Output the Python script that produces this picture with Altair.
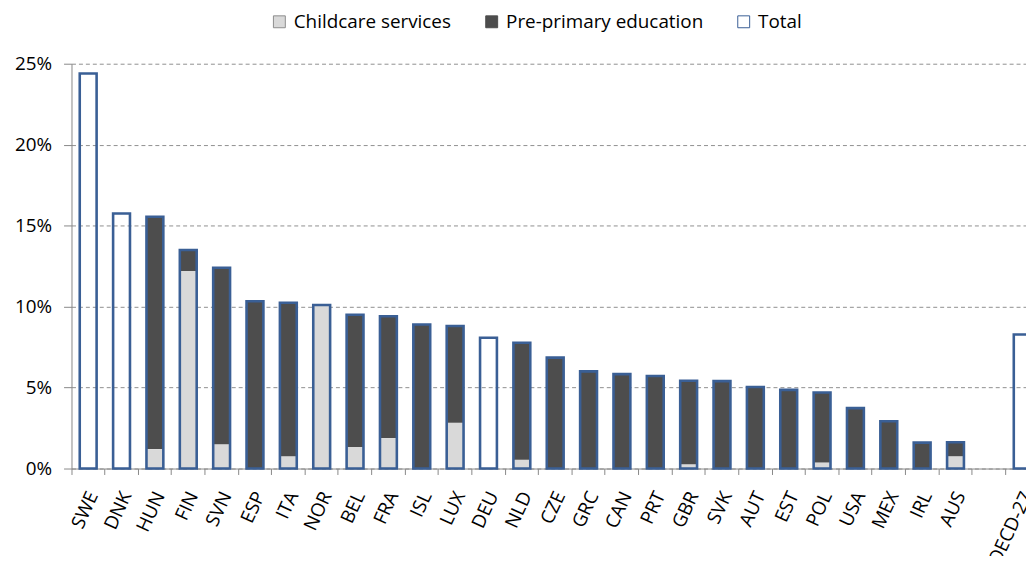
import altair as alt
import pandas as pd

countries = ["SWE", "DNK", "HUN", "FIN", "SVN", "ESP", "ITA", "NOR", "BEL", "FRA",
             "ISL", "LUX", "DEU", "NLD", "CZE", "GRC", "CAN", "PRT", "GBR", "SVK",
             "AUT", "EST", "POL", "USA", "MEX", "IRL", "AUS", "OECD-27"]
domain = countries[:27] + [" "] + ["OECD-27"]

total = [24.40, 15.75, 15.55, 13.50, 12.40, 10.33, 10.24, 10.10, 9.50, 9.40,
         8.90, 8.80, 8.08, 7.77, 6.85, 6.00, 5.83, 5.71, 5.42, 5.40,
         5.04, 4.86, 4.70, 3.73, 2.92, 1.60, 1.62, 8.28]
childcare = [0, 0, 1.20, 12.20, 1.50, 0, 0.76, 10.10, 1.33, 1.88,
             0, 2.82, 0, 0.55, 0, 0, 0, 0, 0.27, 0,
             0, 0, 0.37, 0, 0, 0, 0.76, 0]
preprimary = [0, 0, 14.35, 1.30, 10.90, 10.33, 9.48, 0, 8.17, 7.52,
              8.90, 5.98, 0, 7.22, 6.85, 6.00, 5.83, 5.71, 5.15, 5.40,
              5.04, 4.86, 4.33, 3.73, 2.92, 1.60, 0.86, 0]

series_names = ["Childcare services", "Pre-primary education", "Total"]
fill_colors = ["#d9d9d9", "#4d4d4d", "#ffffff"]
stroke_colors = ["#8c8c8c", "#4d4d4d", "#3a5f95"]

rows = []
for c, cc, pp in zip(countries, childcare, preprimary):
    if cc > 0:
        rows.append({"country": c, "series": series_names[0], "value": cc, "ord": 0})
    if pp > 0:
        rows.append({"country": c, "series": series_names[1], "value": pp, "ord": 1})
comp = pd.DataFrame(rows)
tot = pd.DataFrame({"country": countries, "value": total})
leg = pd.DataFrame({"series": series_names})

FONT = "Open Sans"

x_scale = alt.Scale(domain=domain, range=[0, 975], paddingInner=0, paddingOuter=0)
y_scale = alt.Scale(domain=[0, 25], nice=False, zero=True)
fill_scale = alt.Scale(domain=series_names, range=fill_colors)
stroke_scale = alt.Scale(domain=series_names, range=stroke_colors)

x_axis = alt.Axis(title=None, labelAngle=-65, bandPosition=0, labelOffset=5,
                  tickSize=6, tickColor="#888888", domainColor="#888888",
                  labelFont=FONT, labelFontSize=19, labelColor="#000000",
                  labelPadding=18, grid=False, labelOverlap=False)
y_axis = alt.Axis(title=None, values=[0, 5, 10, 15, 20, 25],
                  labelExpr="datum.value + '%'", grid=True, gridDash=[4, 3],
                  gridColor="#8f8f8f", gridWidth=1, domainColor="#888888",
                  tickColor="#888888", tickSize=8, labelPadding=12,
                  labelFont=FONT, labelFontSize=19, labelColor="#000000")

x_enc = alt.X("country:N", scale=x_scale, sort=domain, axis=x_axis)

legend_def = alt.Legend(title=None, orient="none", legendX=200, legendY=-52,
                        direction="horizontal", symbolType="square", symbolSize=144,
                        symbolStrokeWidth=1, symbolOpacity=1, labelFont=FONT,
                        labelFontSize=19, labelColor="#000000", labelOffset=5,
                        labelLimit=400, columnPadding=31, padding=0)

legend_layer = alt.Chart(leg).mark_point(shape="square", filled=True, strokeWidth=1).encode(
    fill=alt.Fill("series:N", scale=fill_scale, legend=legend_def),
    stroke=alt.Stroke("series:N", scale=stroke_scale, legend=legend_def),
    opacity=alt.value(0),
)

comp_layer = alt.Chart(comp).mark_bar(width=16).encode(
    x=x_enc,
    y=alt.Y("value:Q", stack="zero", scale=y_scale, axis=y_axis),
    fill=alt.Fill("series:N", scale=fill_scale, legend=None),
    order=alt.Order("ord:Q"),
)

total_layer = alt.Chart(tot).mark_bar(width=17, fillOpacity=0, stroke="#3a5f95",
                                      strokeWidth=2.6).encode(
    x=x_enc,
    y=alt.Y("value:Q", scale=y_scale, axis=y_axis),
)

chart = alt.layer(legend_layer, comp_layer, total_layer).properties(
    width=962, height=408,
    padding={"left": 64, "top": 54, "right": 0, "bottom": 86},
    autosize=alt.AutoSizeParams(type="none"),
    background="#ffffff",
).configure_view(stroke=None)

chart.save("out.html", embed_options={"renderer": "svg", "actions": False})
